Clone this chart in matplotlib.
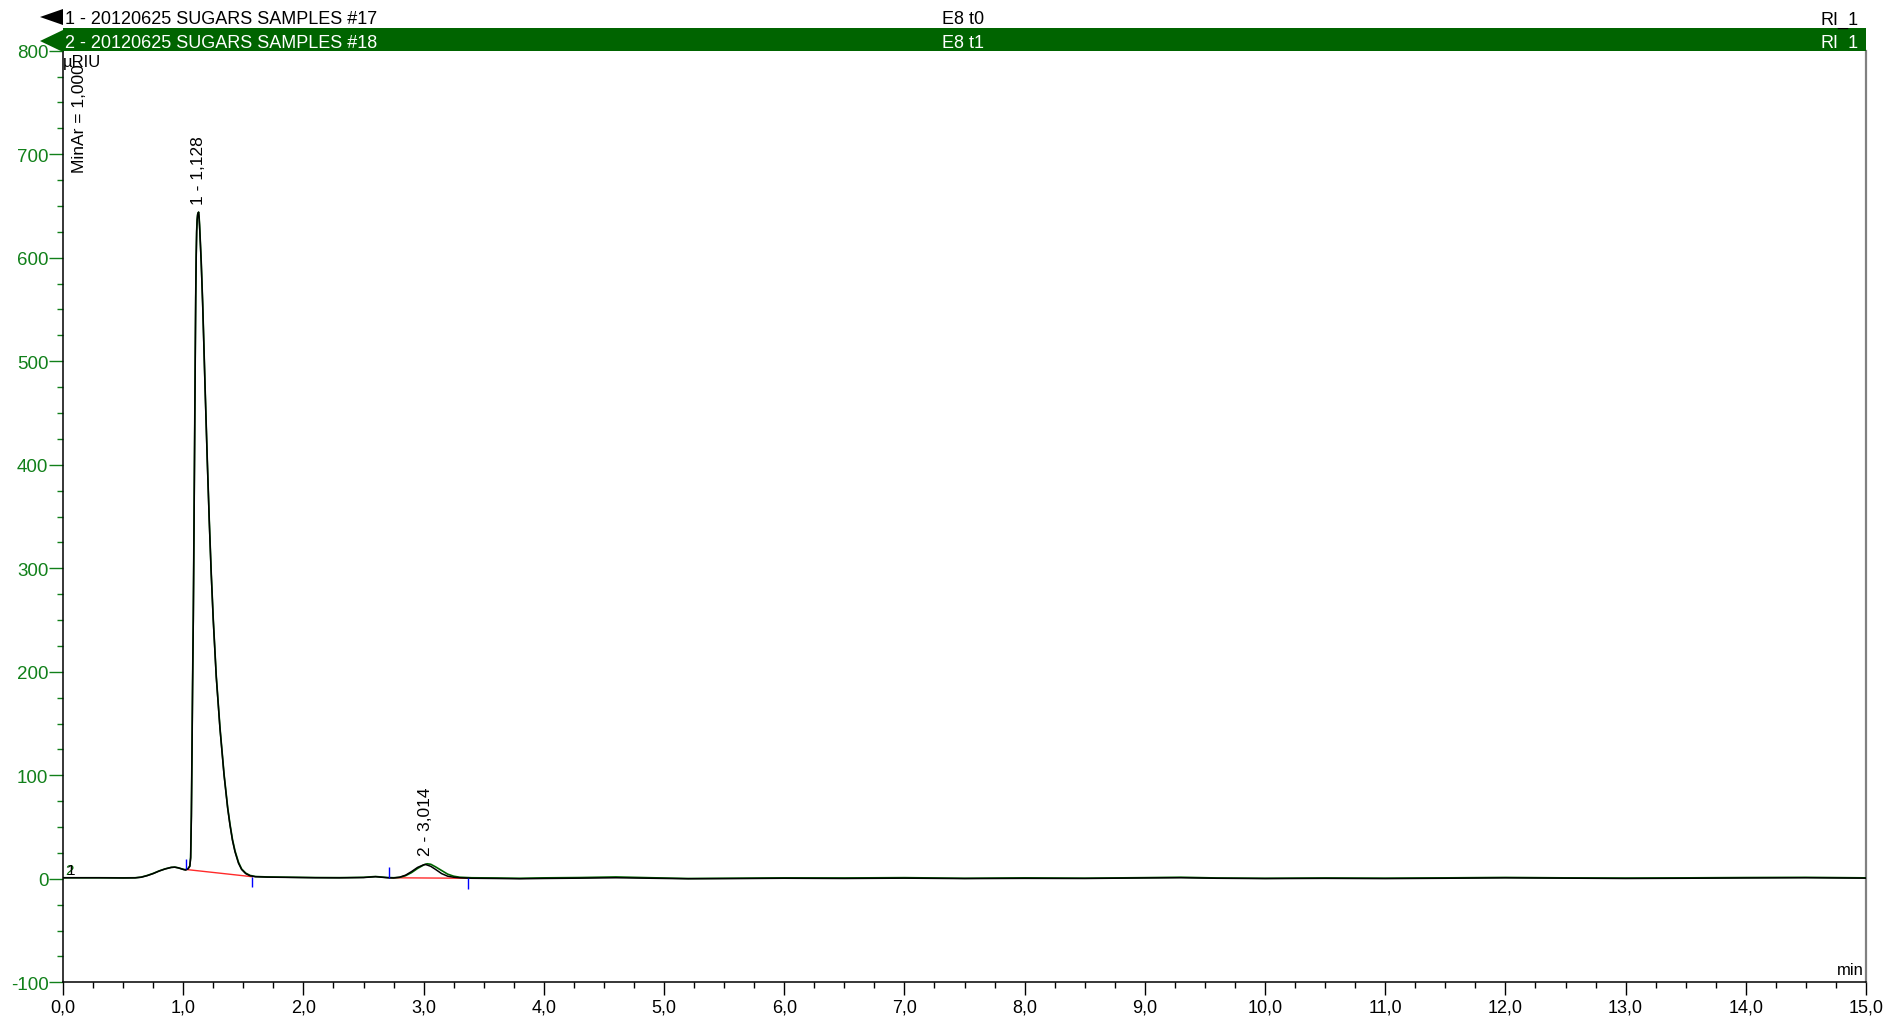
import matplotlib
matplotlib.use("Agg")
import matplotlib.pyplot as plt
from matplotlib.patches import Rectangle, Polygon
from matplotlib.ticker import MultipleLocator, FuncFormatter

plt.rcParams['font.family'] = ['Liberation Sans', 'DejaVu Sans']

# ---- chromatogram data (retention time in min, signal in µRIU) ----
time_min = [
    0.00, 0.30, 0.50, 0.60, 0.65, 0.70, 0.75, 0.80, 0.85, 0.90,
    0.93, 0.96, 1.00, 1.02, 1.04, 1.055, 1.062, 1.068, 1.073, 1.078,
    1.084, 1.090, 1.095, 1.100, 1.104, 1.108, 1.112, 1.116, 1.120, 1.124,
    1.128, 1.132, 1.136, 1.140, 1.150, 1.162, 1.172, 1.181, 1.200, 1.217,
    1.233, 1.250, 1.275, 1.306, 1.340, 1.370, 1.389, 1.410, 1.431, 1.460,
    1.486, 1.520, 1.555, 1.600, 1.700, 1.900, 2.100, 2.300, 2.500, 2.600,
    2.700, 2.750, 2.800, 2.850, 2.900, 2.950, 3.000, 3.014, 3.030, 3.060,
    3.100, 3.150, 3.200, 3.250, 3.300, 3.400, 3.600, 3.800, 4.000, 4.300,
    4.600, 4.900, 5.200, 5.600, 6.000, 6.500, 7.000, 7.500, 8.000, 8.500,
    9.000, 9.300, 9.600, 10.000, 10.500, 11.000, 11.500, 12.000, 12.500, 13.000,
    13.500, 14.000, 14.500, 15.000,
]

signal_17 = [
    1.0, 1.0, 0.8, 0.9, 1.5, 3.0, 5.0, 7.5, 9.5, 11.0,
    11.2, 10.5, 9.0, 8.5, 9.5, 12.0, 20, 60, 120, 185,
    250, 340, 420, 500, 560, 600, 625, 636, 641, 643,
    644, 639, 631, 621, 595, 555, 515, 478, 405, 345,
    295, 250, 195, 145, 100, 68, 52, 37, 26, 15,
    9.0, 5.0, 3.0, 2.0, 1.6, 1.3, 1.0, 0.9, 1.2, 2.0,
    1.0, 0.8, 1.5, 3.5, 7.0, 11.0, 13.5, 13.8, 13.3, 12.0,
    9.0, 5.0, 2.5, 1.5, 1.0, 0.5, 0.3, 0.0, 0.3, 0.6,
    1.0, 0.5, 0.0, 0.2, 0.5, 0.3, 0.6, 0.2, 0.4, 0.3,
    0.8, 1.0, 0.5, 0.2, 0.4, 0.2, 0.5, 0.9, 0.6, 0.3,
    0.5, 0.8, 1.0, 0.6,
]

signal_18 = [
    1.0, 1.0, 0.9, 1.0, 1.6, 3.2, 5.2, 7.6, 9.6, 11.0,
    11.3, 10.6, 9.2, 8.7, 9.8, 12.5, 21, 62, 122, 188,
    254, 343, 423, 502, 561, 601, 626, 637, 642, 643,
    644, 640, 632, 622, 596, 556, 516, 479, 406, 346,
    296, 251, 196, 146, 101, 69, 53, 38, 27, 16,
    9.5, 5.5, 3.3, 2.2, 1.8, 1.5, 1.2, 1.1, 1.4, 2.2,
    1.2, 1.0, 1.4, 3.0, 6.0, 10.0, 13.3, 14.0, 14.5, 14.0,
    11.5, 8.0, 4.5, 2.5, 1.5, 1.0, 0.8, 0.5, 0.9, 1.2,
    1.8, 1.0, 0.3, 0.6, 0.9, 0.8, 1.1, 0.5, 0.9, 0.6,
    1.1, 1.5, 0.8, 0.5, 0.8, 0.6, 0.9, 1.3, 0.9, 0.7,
    0.9, 1.2, 1.4, 0.9,
]

# integration baselines: (start time, start value, end time, end value)
baseline_starts = [(1.023, 9.0), (2.715, 1.0)]
baseline_ends = [(1.575, 2.0), (3.372, 0.5)]

# peak labels
peak_labels = ["1 - 1,128", "2 - 3,014"]
peak_times = [1.128, 3.014]
peak_heights = [644, 14.5]

sample_names = ["1 - 20120625 SUGARS SAMPLES #17", "2 - 20120625 SUGARS SAMPLES #18"]
sample_ids = ["E8 t0", "E8 t1"]
detector = "RI_1"

GREEN = "#006400"
TICK_GREEN = "#11801a"

W, H = 1886, 1020
fig = plt.figure(figsize=(W / 100, H / 100), dpi=100)


def fx(px):
    return px / W


def fy(py):
    return 1 - py / H


ax_left, ax_right, ax_top, ax_bottom = 63, 1866, 51.7, 983.3
ax = fig.add_axes([fx(ax_left), fy(ax_bottom), (ax_right - ax_left) / W, (ax_bottom - ax_top) / H])

# traces
ax.plot(time_min, signal_18, color=GREEN, lw=1.2, zorder=3)
ax.plot(time_min, signal_17, color="black", lw=1.1, zorder=4)

# integration baselines and delimiters
for (t0, v0), (t1, v1) in zip(baseline_starts, baseline_ends):
    ax.plot([t0, t1], [v0, v1], color="#ff2a2a", lw=1.0, zorder=2)
    ax.vlines(t0, v0, v0 + 10, color="#0000ff", lw=1.0, zorder=5)
    ax.vlines(t1, v1 - 10, v1, color="#0000ff", lw=1.0, zorder=5)

# peak annotations
for lab, t, h in zip(peak_labels, peak_times, peak_heights):
    ax.annotate(lab, xy=(t, h), xytext=(0, 6), textcoords="offset points",
                rotation=90, ha="center", va="bottom", fontsize=12.5)

ax.set_xlim(0, 15)
ax.set_ylim(-100, 800)

ax.xaxis.set_major_locator(MultipleLocator(1))
ax.xaxis.set_minor_locator(MultipleLocator(0.25))
ax.yaxis.set_major_locator(MultipleLocator(100))
ax.yaxis.set_minor_locator(MultipleLocator(25))
ax.xaxis.set_major_formatter(FuncFormatter(lambda v, p: f"{v:.1f}".replace(".", ",")))
ax.yaxis.set_major_formatter(FuncFormatter(lambda v, p: f"{v:.0f}"))

ax.tick_params(axis="x", which="major", direction="out", length=9, width=1.0,
               color="black", labelsize=13, pad=3)
ax.tick_params(axis="x", which="minor", direction="out", length=4, width=1.0, color="black")
ax.tick_params(axis="y", which="major", direction="out", length=10, width=1.0,
               color=TICK_GREEN, labelcolor=TICK_GREEN, labelsize=13.5, pad=0.5)
ax.tick_params(axis="y", which="minor", direction="out", length=4, width=1.0, color=TICK_GREEN)

ax.spines["top"].set_visible(False)
ax.spines["right"].set_color("#808080")
ax.spines["right"].set_linewidth(1.6)
ax.spines["left"].set_linewidth(1.1)
ax.spines["bottom"].set_linewidth(1.1)

# trace markers at the origin
ax.text(0.02, 1.5, "2", color=GREEN, fontsize=11, ha="left", va="bottom", zorder=6)
ax.text(0.03, 1.5, "1", color="black", fontsize=11, ha="left", va="bottom", zorder=7)

ax.text(0.999, 0.006, "min", transform=ax.transAxes, ha="right", va="bottom", fontsize=12)

# unit and integration parameter
fig.text(fx(63), fy(55), "µRIU", ha="left", va="top", fontsize=12)
fig.text(fx(80), fy(173), "MinAr = 1,000", rotation=90, ha="center", va="bottom", fontsize=12.5)

# header rows
fig.add_artist(Rectangle((fx(63), fy(52)), fx(1866) - fx(63), (52 - 29) / H,
                         transform=fig.transFigure, facecolor=GREEN, edgecolor="none", zorder=1))
fig.add_artist(Polygon([(fx(40), fy(18)), (fx(63), fy(10)), (fx(63), fy(26))], closed=True,
                       transform=fig.transFigure, facecolor="black", edgecolor="none", zorder=2))
fig.add_artist(Polygon([(fx(40), fy(42)), (fx(63), fy(31)), (fx(63), fy(53))], closed=True,
                       transform=fig.transFigure, facecolor=GREEN, edgecolor="none", zorder=2))

row_y = [20, 43]
row_colors = ["black", "white"]
for name, sid, y, c in zip(sample_names, sample_ids, row_y, row_colors):
    fig.text(fx(65), fy(y), name, color=c, fontsize=13, ha="left", va="center", zorder=3)
    fig.text(fx(942), fy(y), sid, color=c, fontsize=13, ha="left", va="center", zorder=3)
    fig.text(fx(1859), fy(y), detector, color=c, fontsize=13, ha="right", va="center", zorder=3)

fig.savefig("out.png", dpi=100)
